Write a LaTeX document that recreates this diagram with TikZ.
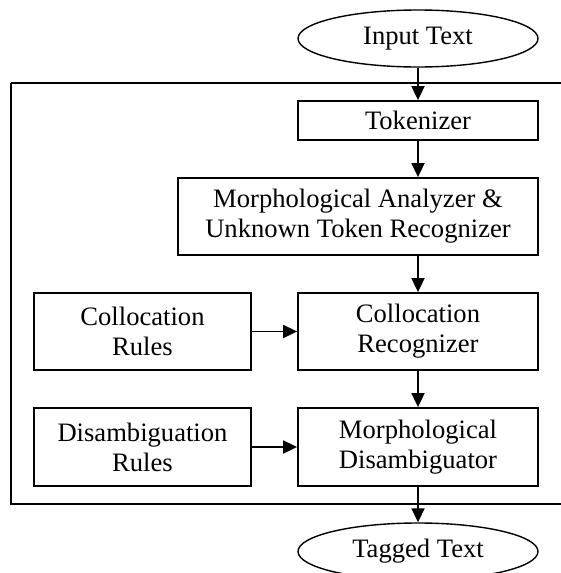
\documentclass[tikz,border=0pt]{standalone}
\usepackage{fontspec}
\setmainfont{Liberation Serif}
\usetikzlibrary{shapes.geometric,arrows.meta}
\begin{document}
\begin{tikzpicture}[x=1pt,y=-1pt,
  every node/.style={font=\fontsize{26.6}{30}\selectfont, align=center, inner sep=0pt},
  box/.style={draw, rectangle, line width=1.8pt},
  oval/.style={draw, ellipse, line width=1.4pt, minimum width=240pt, minimum height=57pt},
  conn/.style={line width=1.8pt, -{Triangle[length=14pt,width=13pt]}}]
\useasboundingbox (0,0) rectangle (560,573);
\draw[line width=1.8pt] (11,83) -- (566,83) (11,83) -- (11,504) -- (566,504);
\node[oval] (in) at (418,38.5) {Input Text};
\node[box, minimum width=240pt, minimum height=39pt] (tok) at (418,120.5) {Tokenizer};
\node[box, minimum width=360pt, minimum height=77pt] (ma) at (358,216.5) {Morphological Analyzer \&\\Unknown Token Recognizer};
\node[box, minimum width=217pt, minimum height=77pt] (cru) at (142.5,331.5) {Collocation\\Rules};
\node[box, minimum width=240pt, minimum height=77pt] (cr) at (418,331.5) {Collocation\\Recognizer};
\node[box, minimum width=217pt, minimum height=78pt] (dru) at (142.5,447) {Disambiguation\\Rules};
\node[box, minimum width=240pt, minimum height=78pt] (md) at (418,447) {Morphological\\Disambiguator};
\node[oval] (out) at (418,551.5) {Tagged Text};
\draw[conn] (in) -- (tok);
\draw[conn] (tok.south) -- (tok.south |- ma.north);
\draw[conn] (cr.north |- ma.south) -- (cr.north);
\draw[conn] (cr) -- (md);
\draw[conn] (md) -- (out);
\draw[conn] (cru) -- (cr);
\draw[conn] (dru) -- (md);
\end{tikzpicture}
\end{document}
